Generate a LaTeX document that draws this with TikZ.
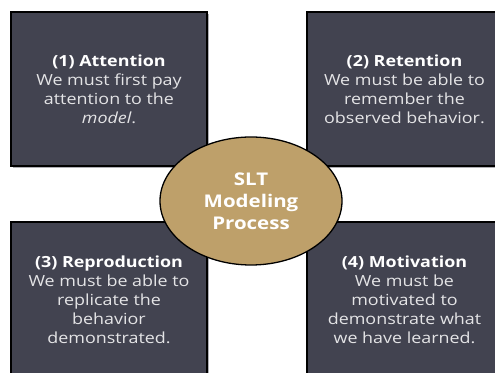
\documentclass[tikz,border=0pt]{standalone}
\usepackage{fontspec}
\setmainfont{Open Sans}[FakeStretch=1.17]
\usetikzlibrary{shapes.geometric}
\definecolor{boxfill}{RGB}{66,67,80}
\definecolor{tan}{RGB}{190,160,106}
\definecolor{boxtext}{RGB}{228,228,230}
\definecolor{shadowgray}{RGB}{175,175,180}
\begin{document}
\begin{tikzpicture}[x=1pt,y=1pt,
  box/.style={draw=black, line width=1.3pt, fill=boxfill, text=boxtext,
    align=center, inner sep=0pt, font=\fontsize{15.3}{19}\selectfont,
    minimum width=196pt, minimum height=154pt},
  shadowbox/.style={fill=shadowgray, inner sep=0pt, minimum width=196pt, minimum height=154pt},
  hub/.style={ellipse, draw=black, line width=1.3pt, fill=tan, text=white,
    align=center, inner sep=0pt, minimum width=182pt, minimum height=128pt,
    font=\bfseries\fontsize{17.5}{22}\selectfont}]
\useasboundingbox (0,0) rectangle (495,372);
\begin{scope}
\clip (0,0) rectangle (495,372);
\node[shadowbox] at (111,281) {};
\node[shadowbox, minimum width=195pt] at (406.5,281) {};
\node[shadowbox, minimum height=156pt] at (111,70) {};
\node[shadowbox, minimum width=195pt, minimum height=156pt] at (406.5,70) {};
\node[box] (att) at (109,283) {{\bfseries\color{white}(1) Attention}\\We must first pay\\attention to the\\\textit{model}.};
\node[box, minimum width=195pt] (ret) at (404.5,283) {{\bfseries\color{white}(2) Retention}\\We must be able to\\remember the\\observed behavior.};
\node[box, minimum height=156pt] (rep) at (109,72) {{\bfseries\color{white}(3) Reproduction}\\We must be able to\\replicate the\\behavior\\demonstrated.};
\node[box, minimum width=195pt, minimum height=156pt] (mot) at (404.5,72) {{\bfseries\color{white}(4) Motivation}\\We must be\\motivated to\\demonstrate what\\we have learned.};
\node[hub] (slt) at (251,171) {SLT\\Modeling\\Process};
\end{scope}
\end{tikzpicture}
\end{document}
